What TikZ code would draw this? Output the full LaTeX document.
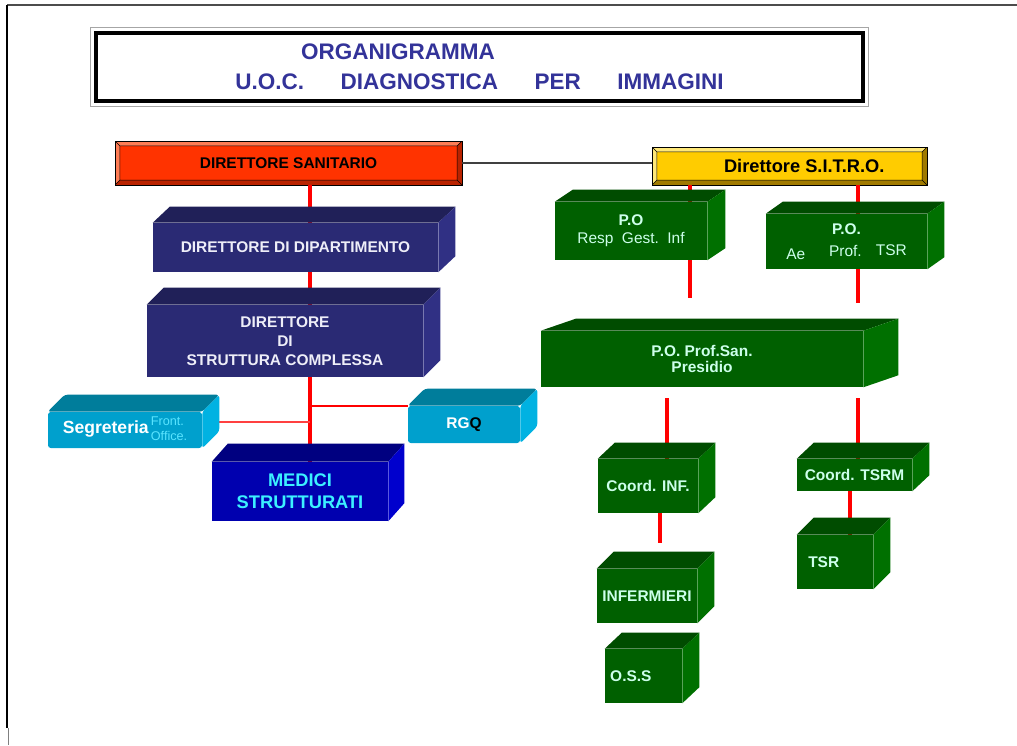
\documentclass[tikz,border=0pt]{standalone}
\usepackage{fontspec}
\setmainfont{Liberation Sans}

\definecolor{blutitolo}{RGB}{51,51,153}
\definecolor{rossods}{RGB}{255,51,0}
\definecolor{rossochiaro}{RGB}{255,125,85}
\definecolor{rossoscuro}{RGB}{185,35,0}
\definecolor{giallo}{RGB}{255,204,0}
\definecolor{giallochiaro}{RGB}{255,232,120}
\definecolor{giallooscuro}{RGB}{160,122,0}
\definecolor{notteF}{RGB}{42,42,116}
\definecolor{notteS}{RGB}{32,32,88}
\definecolor{notteL}{RGB}{48,48,132}
\definecolor{notteT}{RGB}{238,238,248}
\definecolor{bluF}{RGB}{0,0,175}
\definecolor{bluS}{RGB}{0,0,128}
\definecolor{bluL}{RGB}{0,0,205}
\definecolor{bluT}{RGB}{60,240,255}
\definecolor{cianoF}{RGB}{0,160,205}
\definecolor{cianoS}{RGB}{0,125,155}
\definecolor{cianoL}{RGB}{0,178,226}
\definecolor{cianoT}{RGB}{90,228,255}
\definecolor{verdeF}{RGB}{0,96,0}
\definecolor{verdeS}{RGB}{0,76,0}
\definecolor{verdeL}{RGB}{0,112,0}
\definecolor{verdeT}{RGB}{205,255,235}

\tikzset{
  dim/.style 2 args={minimum width=#1*0.025cm, minimum height=#2*0.025cm},
  blocco/.style={inner sep=0pt, align=center, font=\bfseries\fontsize{11}{13}\selectfont},
  cornice/.style n args={3}{blocco, fill=#1, draw=black, line width=0.5pt, path picture={
    \coordinate (sw) at (path picture bounding box.south west);
    \coordinate (nw) at (path picture bounding box.north west);
    \coordinate (ne) at (path picture bounding box.north east);
    \coordinate (se) at (path picture bounding box.south east);
    \fill[#2] (sw) -- (nw) -- (ne) -- ([shift={(-3.5pt,-3.5pt)}]ne) -- ([shift={(3.5pt,-3.5pt)}]nw) -- ([shift={(3.5pt,3.5pt)}]sw) -- cycle;
    \fill[#3] (sw) -- (se) -- (ne) -- ([shift={(-3.5pt,-3.5pt)}]ne) -- ([shift={(-3.5pt,3.5pt)}]se) -- ([shift={(3.5pt,3.5pt)}]sw) -- cycle;
    \draw[line width=0.4pt] ([shift={(3.5pt,3.5pt)}]sw) rectangle ([shift={(-3.5pt,-3.5pt)}]ne)
      (sw) -- ++(3.5pt,3.5pt) (nw) -- ++(3.5pt,-3.5pt) (ne) -- ++(-3.5pt,-3.5pt) (se) -- ++(-3.5pt,3.5pt);}},
  notte/.style={blocco, fill=notteF, text=notteT},
  nottesopra/.style={fill=notteS}, nottelato/.style={fill=notteL},
  blu/.style={blocco, fill=bluF, text=bluT, font=\bfseries\fontsize{13}{15.5}\selectfont},
  blusopra/.style={fill=bluS}, blulato/.style={fill=bluL},
  ciano/.style={blocco, fill=cianoF, text=white, rounded corners=2pt},
  cianosopra/.style={fill=cianoS, rounded corners=2pt}, cianolato/.style={fill=cianoL, rounded corners=2pt},
  verde/.style={blocco, fill=verdeF, text=verdeT},
  verdesopra/.style={fill=verdeS}, verdelato/.style={fill=verdeL},
  rossa/.style={red, line width=2.6pt},
}

\begin{document}
\begin{tikzpicture}[x=0.025cm, y=-0.025cm]
\useasboundingbox (0,0) rectangle (1017,745);
% cornice della pagina
\draw[black!70, line width=1.4pt] (7,5) -- (1017,5);
\draw[black, line width=1pt] (7,5) -- (7,728);
\draw[gray, line width=0.6pt] (8,728) -- (8,745);

% titolo
\node[draw=black, line width=3.2pt, fill=white, inner sep=0pt, dim={767}{68}, align=center,
      text=blutitolo, font=\bfseries\fontsize{16}{21}\selectfont] (tit) at (479.5,67)
      {ORGANIGRAMMA\hspace*{116pt}\\U.O.C.\hspace{26pt}DIAGNOSTICA\hspace{26pt}PER\hspace{26pt}IMMAGINI};
\draw[gray!70, line width=0.8pt] ([shift={(-3,3)}]tit.south west) rectangle ([shift={(3,-3)}]tit.north east);

% direttori
\node[cornice={rossods}{rossochiaro}{rossoscuro}, dim={347}{44}] (ds) at (288.5,163) {DIRETTORE SANITARIO};
\node[cornice={giallo}{giallochiaro}{giallooscuro}, dim={275}{38}, font=\bfseries\fontsize{13}{15}\selectfont] (sitro) at (789.5,166)
      {\hspace{21pt}Direttore S.I.T.R.O.};

% lato sinistro
\node[notte, dim={285}{49}] (dd) at (295.5,247.5) {DIRETTORE DI DIPARTIMENTO};
\node[notte, dim={276}{72}, font=\bfseries\fontsize{11}{13.5}\selectfont] (dsc) at (285,341) {DIRETTORE\\DI\\STRUTTURA COMPLESSA};
\node[ciano, dim={154}{36}] (segr) at (125,430)
      {{\fontsize{12.5}{14}\selectfont Segreteria}\hspace{1.5pt}{\color{cianoT}\mdseries\fontsize{9}{10.6}\selectfont\begin{tabular}{@{}l@{}}Front.\\Office.\end{tabular}}};
\node[ciano, dim={112}{37}] (rgq) at (464,424.5) {RG\textcolor{black}{Q}};
\node[blu, dim={176}{59}] (medici) at (300,491.5) {MEDICI\\STRUTTURATI};

% lato destro
\node[verde, dim={152}{58}] (po1) at (631,231) {P.O\\\mdseries Resp\hspace{6pt}Gest.\hspace{6pt}Inf};
\node[verde, dim={161}{55}] (po2) at (846.5,241.5)
      {P.O.\\[3pt]\mdseries\raisebox{-2pt}{Ae}\hspace{17pt}Prof.\hspace{10pt}\raisebox{1pt}{TSR}};
\node[verde, dim={322}{56}, font=\bfseries\fontsize{11}{11.5}\selectfont] (pres) at (702,359) {P.O. Prof.San.\\Presidio};
\node[verde, dim={100}{54}] (cinf) at (648,486) {Coord. INF.};
\node[verde, dim={115}{32}] (ctsrm) at (854.5,475) {Coord. TSRM};
\node[verde, dim={100}{54}] (inf) at (647,596) {INFERMIERI};
\node[verde, dim={77}{54}] (oss) at (643.5,676) {O.S.S\hspace{18pt}};
\node[verde, dim={76}{54}] (tsr) at (835,562) {TSR\hspace{16pt}};

% collegamenti
\coordinate (asse) at (310,0);
\coordinate (sx) at (219,422);
\coordinate (p1) at (690,298);
\coordinate (p2) at (858,303);
\coordinate (c1) at (667,398);
\coordinate (c2) at (858,398);
\coordinate (c3) at (660,543);
\coordinate (c4) at (850,0);
\draw[black!75, line width=0.8pt] (ds.east) -- (ds.east -| sitro.west);
\draw[rossa] (ds.south -| asse) -- (dd.north -| asse) (dd.south -| asse) -- (dsc.north -| asse)
             (dsc.south -| asse) -- (medici.north -| asse);
\draw[red, line width=1.4pt] (asse |- rgq.north) -- (rgq.north west);
\draw[red!75, line width=0.8pt] (sx) -- (sx -| asse);
\draw[rossa] (sitro.south -| p1) -- (po1.north -| p1) (po1.south -| p1) -- (p1);
\draw[rossa] (sitro.south -| p2) -- (po2.north -| p2) (po2.south -| p2) -- (p2);
\draw[rossa] (c1) -- (cinf.north -| c1) (cinf.south -| c3) -- (c3);
\draw[rossa] (c2) -- (ctsrm.north -| c2) (ctsrm.south -| c4) -- (tsr.north -| c4);

% facce dei blocchi
\foreach \n/\dx/\dy/\f in {dd/17/-16/notte, dsc/17/-17/notte, segr/17/-17/ciano, rgq/17/-17/ciano,
    medici/16/-18/blu, po1/18/-12/verde, po2/17/-12/verde, pres/35/-12/verde, cinf/17/-16/verde,
    ctsrm/17/-16/verde, inf/17/-17/verde, oss/17/-16/verde, tsr/17/-17/verde}{
  \fill[\f sopra] (\n.north west) -- ++(\dx,\dy) -- ([shift={(\dx,\dy)}]\n.north east) -- (\n.north east) -- cycle;
  \fill[\f lato] (\n.north east) -- ++(\dx,\dy) -- ([shift={(\dx,\dy)}]\n.south east) -- (\n.south east) -- cycle;
}
\end{tikzpicture}
\end{document}
